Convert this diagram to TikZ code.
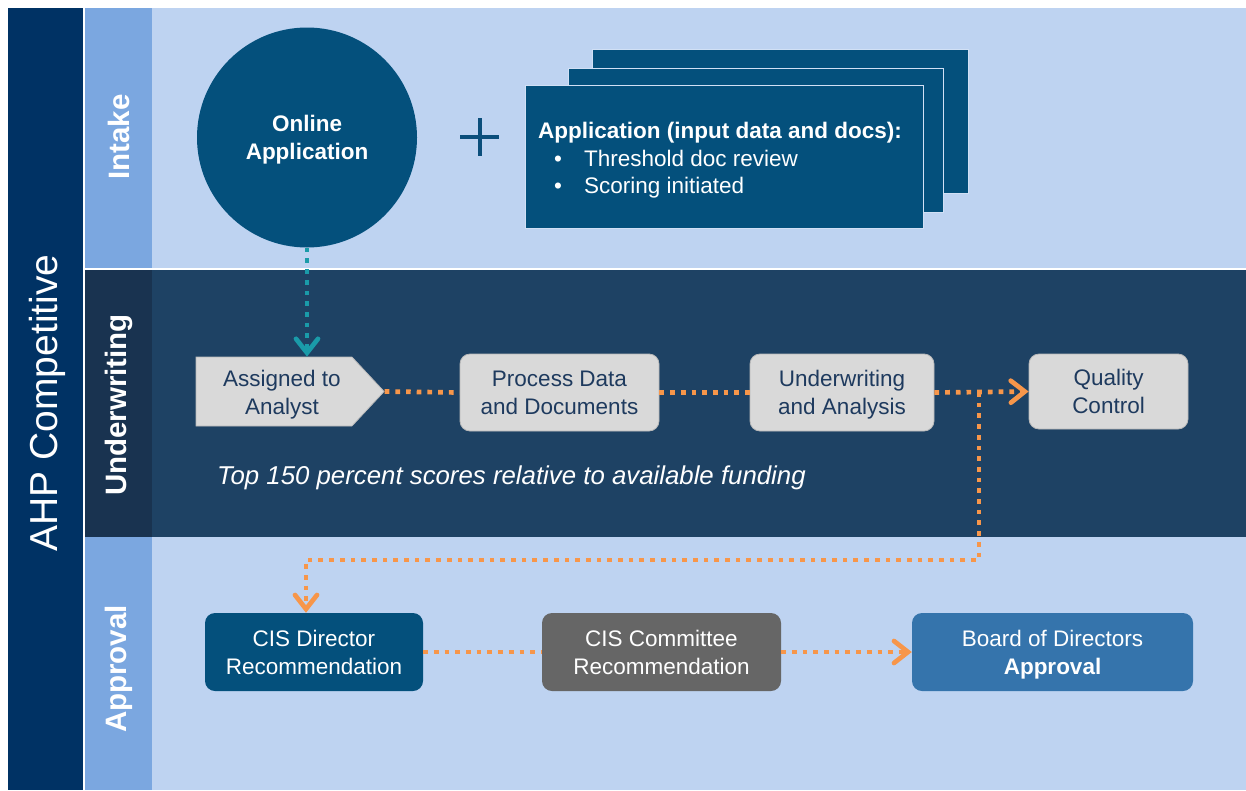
\documentclass[tikz,border=0pt]{standalone}
\usepackage{fontspec}
\setmainfont{Liberation Sans}
\usetikzlibrary{arrows.meta,shapes.symbols}

\definecolor{barnavy}{HTML}{003264}
\definecolor{lanecol}{HTML}{7BA7E0}
\definecolor{laneband}{HTML}{BED3F1}
\definecolor{uwband}{HTML}{1E4264}
\definecolor{uwcol}{HTML}{193350}
\definecolor{deepblue}{HTML}{04507C}
\definecolor{boxgray}{HTML}{D9D9D9}
\definecolor{boxtext}{HTML}{1E3A5E}
\definecolor{cmtgray}{HTML}{666666}
\definecolor{boardblue}{HTML}{3574AC}
\definecolor{flowor}{HTML}{F7964A}
\definecolor{flowteal}{HTML}{1A9BA9}
\definecolor{plusblue}{HTML}{0B4E7B}

\tikzset{
  body/.style={font=\fontsize{22.5pt}{28pt}\selectfont, align=center, text depth=0pt},
  lanelabel/.style={rotate=90, text=white, font=\bfseries\fontsize{29.5pt}{32pt}\selectfont},
  graybox/.style={body, rectangle, rounded corners=10pt, fill=boxgray, draw=gray!55,
    line width=0.8pt, text=boxtext, inner sep=0pt},
  apprbox/.style={body, rectangle, rounded corners=10pt, text=white, inner sep=0pt,
    minimum height=78pt},
  docbox/.style={rectangle, fill=deepblue, draw=laneband!70!white, line width=1pt,
    anchor=north west, inner sep=0pt},
  orflow/.style={draw=flowor, line width=4.7pt, dash pattern=on 4.7pt off 6pt},
  tealflow/.style={draw=flowteal, line width=4.7pt, dash pattern=on 4.7pt off 6pt},
  chevron/.style={-{Straight Barb[length=14pt,width=22pt,line cap=round]}},
}

\begin{document}
\begin{tikzpicture}[x=1pt, y=-1pt]
  \useasboundingbox (0,0) rectangle (1246,790);
  \fill[white] (0,0) rectangle (1246,790);

  % swim lanes
  \fill[barnavy] (8,8) rectangle (83,790);
  \fill[lanecol] (85,8) rectangle (152,268);
  \fill[laneband] (152,8) rectangle (1246,268);
  \fill[uwcol] (85,270) rectangle (152,537);
  \fill[uwband] (152,270) rectangle (1246,537);
  \fill[lanecol] (85,537) rectangle (152,790);
  \fill[laneband] (152,537) rectangle (1246,790);

  \node[rotate=90, text=white, font=\fontsize{39pt}{42pt}\selectfont] (title) at (47,403) {AHP Competitive};
  \node[lanelabel] (lintake) at (119,137) {Intake};
  \node[lanelabel] (luw) at (119,405) {Underwriting};
  \node[lanelabel] (lappr) at (119,669) {Approval};

  % intake
  \node[circle, fill=deepblue, minimum size=220pt, inner sep=0pt, body, text=white,
        font=\bfseries\fontsize{22.5pt}{28pt}\selectfont] (online) at (307,137.5) {Online\\Application};
  \draw[plusblue, line width=4pt] (460,137) -- (499,137) (479.5,118) -- (479.5,156);

  \node[docbox, minimum width=376pt, minimum height=144pt] (docback) at (592,49) {};
  \node[docbox, minimum width=375pt, minimum height=144pt] (docmid) at (568,68) {};
  \node[docbox, minimum width=398pt, minimum height=143pt] (docs) at (525,85) {};
  \node[anchor=west, align=left, text=white, inner sep=0pt,
        font=\fontsize{22.5pt}{27.5pt}\selectfont] (doctext) at (538,160.5)
    {\textbf{Application (input data and docs):}\\
     \hspace{16pt}\textbullet\hspace{22pt}Threshold doc review\\
     \hspace{16pt}\textbullet\hspace{22pt}Scoring initiated};

  % underwriting
  \node[signal, signal to=east, signal pointer angle=94, fill=boxgray, draw=gray!55,
        line width=0.8pt, minimum width=188pt, minimum height=69pt,
        inner sep=0pt] (assign) at (274,391.5) {};
  \node[body, text=boxtext, inner sep=0pt] (assigntext) at (282,392) {Assigned to\\Analyst};
  \node[graybox, minimum width=199pt, minimum height=77pt] (process) at (559.5,392.5) {Process Data\\and Documents};
  \node[graybox, minimum width=184pt, minimum height=77pt] (uwa) at (842,392.5) {Underwriting\\and Analysis};
  \node[graybox, minimum width=159pt, minimum height=75pt] (qc) at (1108.5,391.5) {Quality\\Control};
  \node[anchor=west, text=white, inner sep=0pt,
        font=\itshape\fontsize{25.8pt}{28pt}\selectfont] (topnote) at (217,478)
    {Top 150 percent scores relative to available funding};

  % approval
  \node[apprbox, fill=deepblue, minimum width=218pt] (director) at (314,652) {CIS Director\\Recommendation};
  \node[apprbox, fill=cmtgray, minimum width=239pt] (committee) at (661.5,652) {CIS Committee\\Recommendation};
  \node[apprbox, fill=boardblue, minimum width=281pt] (board) at (1052.5,652) {Board of Directors\\\textbf{Approval}};

  % connectors
  \draw[tealflow, chevron] (online.south) -- (online.south |- assign.north);
  \draw[orflow] (assign.east) -- (process.west);
  \draw[orflow] (process.east) -- (uwa.west);
  \draw[orflow, chevron] (uwa.east) -- (qc.west);
  \coordinate (split) at (979,392);
  \coordinate (turn) at (306,560);
  \draw[orflow, chevron] (split) -- (split |- turn) -- (turn) -- (turn |- director.north);
  \draw[orflow] (director.east) -- (committee.west);
  \draw[orflow, chevron] (committee.east) -- (board.west);
\end{tikzpicture}
\end{document}
